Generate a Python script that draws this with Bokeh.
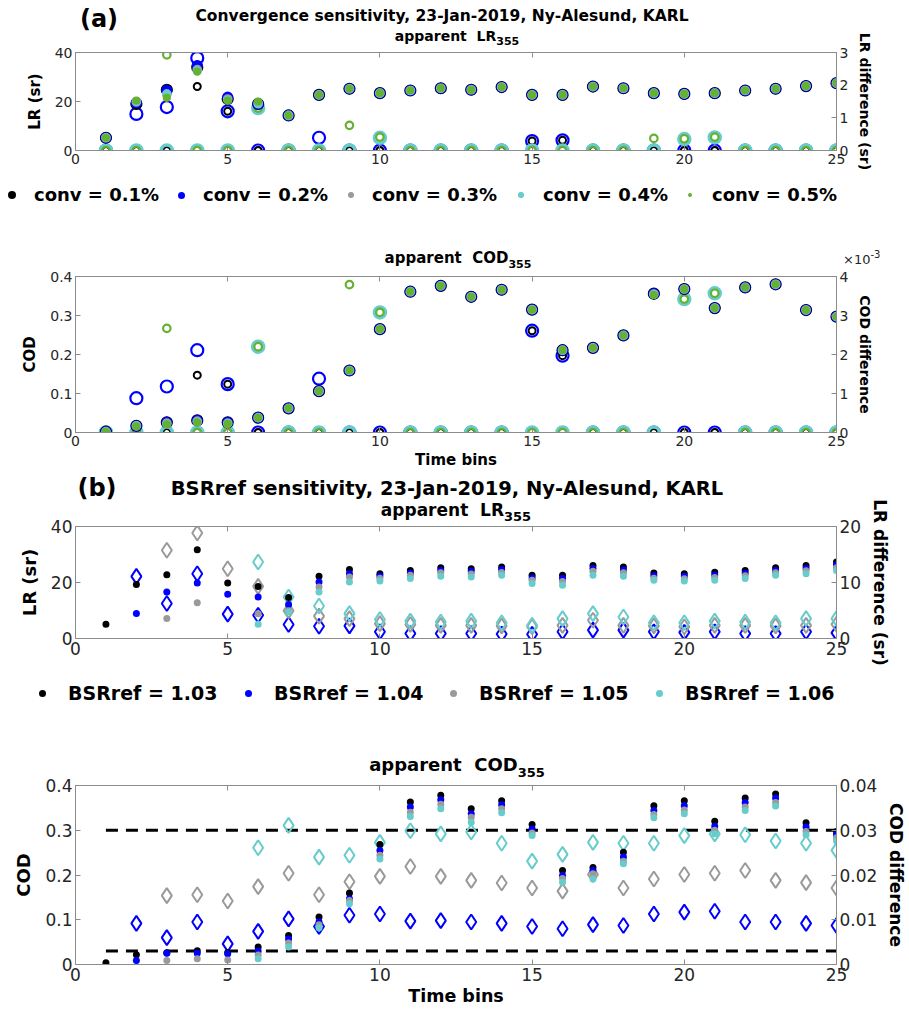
import numpy as np
from bokeh.plotting import figure
from bokeh.layouts import column
from bokeh.models import (Range1d, LinearAxis, FixedTicker, CustomJSTickFormatter, Div)
from bokeh.embed import file_html
from bokeh.resources import INLINE

nan = np.nan

# ---------------------------------------------------------------- data
bins = np.arange(1, 26)

conv_labels = ["conv = 0.1%", "conv = 0.2%", "conv = 0.3%", "conv = 0.4%", "conv = 0.5%"]
bsr_labels = ["BSRref = 1.03", "BSRref = 1.04", "BSRref = 1.05", "BSRref = 1.06"]

# (a) apparent lidar ratio (sr) for each convergence criterion
lr_conv01 = [5.2, 19.0, 24.8, 34.0, 21.0, 19.0, 14.3, 22.7, 25.2, 23.4, 24.5, 25.4, 24.8,
             25.9, 22.7, 22.7, 26.1, 25.4, 23.4, 23.1, 23.4, 24.5, 25.2, 26.3, 27.5]
lr_conv02 = [5.2, 19.5, 24.5, 34.7, 21.8, 19.0, 14.3, 22.7, 25.2, 23.4, 24.5, 25.4, 24.8,
             25.9, 22.7, 22.7, 26.1, 25.4, 23.4, 23.1, 23.4, 24.5, 25.2, 26.3, 27.5]
lr_conv03 = [5.2, 19.8, 23.0, 33.0, 21.0, 19.3, 14.3, 22.7, 25.2, 23.4, 24.5, 25.4, 24.8,
             25.9, 22.7, 22.7, 26.1, 25.4, 23.4, 23.1, 23.4, 24.5, 25.2, 26.3, 27.5]
lr_conv04 = [5.2, 20.0, 23.1, 32.5, 20.6, 19.0, 14.3, 22.7, 25.2, 23.4, 24.5, 25.4, 24.8,
             25.9, 22.7, 22.7, 26.1, 25.4, 23.4, 23.1, 23.4, 24.5, 25.2, 26.3, 27.5]
lr_conv05 = [5.2, 20.4, 21.5, 32.2, 20.4, 20.0, 14.3, 22.7, 25.2, 23.4, 24.5, 25.4, 24.8,
             25.9, 22.7, 22.7, 26.1, 25.4, 23.4, 23.1, 23.4, 24.5, 25.2, 26.3, 27.5]

# (a) lidar ratio difference (sr)
lrd_conv01 = [0, 0, 0, 1.96, 1.20, 0, 0, 0, 0, 0, 0, 0, 0, 0, 0.29, 0.31, 0, 0, 0, 0, 0, 0, 0, 0, 0]
lrd_conv02 = [0, 1.12, 1.33, 2.83, 1.20, 0, 0, 0.39, 0, 0, 0, 0, 0, 0, 0.29, 0.31, 0, 0, 0, 0, 0, 0, 0, 0, 0]
lrd_conv03 = [0, 0, 0, 0, 0, 0, 0, 0, 0, 0, 0, 0, 0, 0, 0, 0, 0, 0, 0, 0, 0, 0, 0, 0, 0]
lrd_conv04 = [0, 0, 0, 0, 0, 1.30, 0, 0, 0, 0.39, 0, 0, 0, 0, 0, 0, 0, 0, 0, 0.35, 0.40, 0, 0, 0, 0]
lrd_conv05 = [0, 0, 2.93, 0, 0, 1.30, 0, 0, 0.77, 0.41, 0, 0, 0, 0, 0, 0, 0, 0, 0.37, 0.36, 0.41, 0, 0, 0, 0]

# (a) apparent cloud optical depth
cod_conv01 = [0.002, 0.017, 0.026, 0.031, 0.026, 0.038, 0.062, 0.106, 0.159, 0.265, 0.361, 0.376, 0.348,
              0.366, 0.315, 0.211, 0.217, 0.249, 0.356, 0.368, 0.319, 0.372, 0.380, 0.314, 0.297]
cod_conv02 = [0.002, 0.017, 0.026, 0.031, 0.026, 0.038, 0.062, 0.106, 0.159, 0.265, 0.361, 0.376, 0.348,
              0.366, 0.315, 0.211, 0.217, 0.249, 0.356, 0.368, 0.319, 0.372, 0.380, 0.314, 0.297]
cod_conv03 = [0.002, 0.017, 0.024, 0.029, 0.024, 0.038, 0.062, 0.106, 0.159, 0.265, 0.361, 0.376, 0.348,
              0.366, 0.315, 0.211, 0.217, 0.249, 0.355, 0.368, 0.319, 0.372, 0.380, 0.314, 0.297]
cod_conv04 = [0.002, 0.017, 0.022, 0.027, 0.023, 0.038, 0.062, 0.106, 0.159, 0.265, 0.361, 0.376, 0.348,
              0.366, 0.315, 0.211, 0.217, 0.249, 0.354, 0.368, 0.319, 0.372, 0.380, 0.314, 0.297]
cod_conv05 = [0.002, 0.016, 0.021, 0.026, 0.022, 0.038, 0.062, 0.106, 0.159, 0.265, 0.361, 0.376, 0.348,
              0.366, 0.315, 0.211, 0.217, 0.249, 0.353, 0.368, 0.319, 0.372, 0.380, 0.314, 0.297]

# (a) COD difference (x 1e-3)
codd_conv01 = [0, 0, 0, 1.47, 1.24, 0, 0, 0, 0, 0, 0, 0, 0, 0, 2.61, 1.97, 0, 0, 0, 0, 0, 0, 0, 0, 0]
codd_conv02 = [0, 0.88, 1.18, 2.11, 1.24, 0, 0, 1.38, 0, 0, 0, 0, 0, 0, 2.61, 1.97, 0, 0, 0, 0, 0, 0, 0, 0, 0]
codd_conv03 = [0, 0, 0, 0, 0, 0, 0, 0, 0, 0, 0, 0, 0, 0, 0, 0, 0, 0, 0, 0, 0, 0, 0, 0, 0]
codd_conv04 = [0, 0, 0, 0, 0, 2.20, 0, 0, 0, 3.08, 0, 0, 0, 0, 0, 0, 0, 0, 0, 3.42, 3.57, 0, 0, 0, 0]
codd_conv05 = [0, 0, 2.67, 0, 0, 2.20, 0, 0, 3.79, 3.08, 0, 0, 0, 0, 0, 0, 0, 0, 3.53, 3.42, 3.57, 0, 0, 0, 0]

# (b) apparent lidar ratio (sr) for each BSRref
lr_bsr103 = [5.1, 19.3, 22.8, 31.7, 19.8, 18.6, 14.6, 22.2, 24.6, 23.1, 24.3, 25.3, 24.9,
             25.5, 22.6, 22.6, 26.1, 25.5, 23.4, 23.1, 23.7, 24.3, 25.3, 26.1, 27.3]
lr_bsr104 = [nan, 8.9, 16.6, 19.8, 15.8, 14.8, 12.1, 20.2, 23.1, 22.3, 23.4, 24.3, 24.0,
             24.6, 21.6, 21.5, 25.0, 24.5, 22.4, 22.2, 22.7, 23.3, 24.3, 25.1, 26.3]
lr_bsr105 = [nan, nan, 7.1, 12.8, nan, 8.8, 9.9, 18.4, 22.0, 21.5, 22.6, 23.5, 23.0,
             23.6, 20.8, 20.4, 24.0, 23.5, 21.5, 21.3, 21.8, 22.4, 23.5, 24.2, 25.3]
lr_bsr106 = [nan, nan, nan, nan, nan, 5.1, 9.5, 16.6, 20.2, 20.5, 21.4, 22.2, 22.0,
             22.6, 19.6, 19.0, 22.6, 22.2, 20.8, 20.5, 20.8, 21.4, 22.6, 23.1, 24.3]

# (b) lidar ratio difference (sr)
lrd_bsr104 = [nan, 11.1, 6.25, 11.55, 4.35, 4.15, 2.5, 2.2, 2.25, 1.2, 0.9, 0.9, 0.9,
              0.8, 0.75, 1.2, 1.5, 1.5, 1.2, 1.1, 1.2, 0.9, 0.9, 1.2, 1.0]
lrd_bsr105 = [nan, nan, 15.75, 18.85, 12.45, 9.3, 4.95, 4.0, 3.55, 2.65, 2.5, 2.35, 2.35,
              2.25, 2.1, 2.35, 3.25, 2.35, 2.25, 2.1, 2.35, 2.35, 2.25, 2.35, 2.55]
lrd_bsr106 = [nan, nan, nan, nan, nan, 13.65, 7.4, 5.8, 4.45, 3.4, 3.1, 2.95, 3.1,
              2.8, 2.35, 3.55, 4.45, 3.85, 2.8, 2.8, 3.1, 2.95, 2.8, 3.55, 3.55]

# (b) apparent cloud optical depth
cod_bsr103 = [0.004, 0.022, 0.026, 0.031, 0.027, 0.039, 0.065, 0.106, 0.160, 0.268, 0.363, 0.378, 0.348,
              0.366, 0.313, 0.210, 0.217, 0.251, 0.355, 0.366, 0.320, 0.372, 0.381, 0.317, 0.297]
cod_bsr104 = [nan, 0.009, 0.025, 0.025, 0.024, 0.030, 0.057, 0.095, 0.147, 0.255, 0.352, 0.368, 0.337,
              0.357, 0.303, 0.199, 0.210, 0.240, 0.344, 0.355, 0.309, 0.362, 0.372, 0.307, 0.290]
cod_bsr105 = [nan, nan, 0.009, 0.013, 0.010, 0.021, 0.048, 0.089, 0.143, 0.244, 0.340, 0.358, 0.329,
              0.348, 0.294, 0.192, 0.203, 0.231, 0.335, 0.345, 0.300, 0.352, 0.362, 0.297, 0.283]
cod_bsr106 = [nan, nan, nan, nan, nan, 0.013, 0.039, 0.082, 0.136, 0.236, 0.331, 0.348, 0.318,
              0.339, 0.288, 0.184, 0.191, 0.225, 0.328, 0.337, 0.292, 0.344, 0.354, 0.290, 0.276]

# (b) COD difference
codd_bsr104 = [nan, 0.0092, 0.0060, 0.0095, 0.0046, 0.0074, 0.0102, 0.0085, 0.0110, 0.0113, 0.0097, 0.0098, 0.0095,
               0.0092, 0.0085, 0.0080, 0.0089, 0.0087, 0.0113, 0.0117, 0.0119, 0.0095, 0.0095, 0.0092, 0.0087]
codd_bsr105 = [nan, nan, 0.0154, 0.0156, 0.0142, 0.0174, 0.0204, 0.0156, 0.0185, 0.0197, 0.0219, 0.0197, 0.0188,
               0.0182, 0.0171, 0.0164, 0.0201, 0.0171, 0.0191, 0.0201, 0.0204, 0.0210, 0.0188, 0.0183, 0.0171]
codd_bsr106 = [nan, nan, nan, nan, nan, 0.0261, 0.0311, 0.0240, 0.0244, 0.0273, 0.0299, 0.0292, 0.0296,
               0.0271, 0.0231, 0.0246, 0.0273, 0.0271, 0.0271, 0.0288, 0.0292, 0.0290, 0.0276, 0.0271, 0.0255]

# COD-difference thresholds (dashed lines)
codd_thresholds = [0.003, 0.03]

# ---------------------------------------------------------------- style
BLACK, BLUE, GRAY, CYAN, GREEN = "#000000", "#0000FF", "#9A9A9A", "#66CCCC", "#66B032"
conv_colors = [BLACK, BLUE, GRAY, CYAN, GREEN]
bsr_colors = [BLACK, BLUE, GRAY, CYAN]
AX = "#8C8C8C"
TXT = "#262626"
FONT = "DejaVu Sans"

W = 909
LEFT, RIGHT = 75, 70


def frac_formatter():
    return CustomJSTickFormatter(code="return String(Math.round(tick*1000)/1000);")


def panel(height, top, bottom, ymax, y2max, yticks, y2ticks, fs, ylabel, y2label, lab_fs,
          y2lab_fs, xlabel=None, xlab_fs=None):
    p = figure(width=W, height=height, x_range=Range1d(0, 25), y_range=Range1d(0, ymax),
               output_backend="svg", toolbar_location=None,
               min_border_left=LEFT, min_border_right=RIGHT,
               min_border_top=top, min_border_bottom=bottom)
    p.extra_y_ranges = {"right": Range1d(0, y2max)}
    p.add_layout(LinearAxis(y_range_name="right"), "right")
    p.add_layout(LinearAxis(), "above")
    p.grid.visible = False
    p.outline_line_color = AX
    p.background_fill_color = "white"
    p.border_fill_alpha = 0      # lets the title / legend text underneath show through
    for ax in p.axis:
        ax.axis_line_color = AX
        ax.major_tick_line_color = AX
        ax.major_tick_in = 5
        ax.major_tick_out = 0
        ax.minor_tick_line_color = None
        ax.major_label_text_font = FONT
        ax.major_label_text_font_size = f"{fs}px"
        ax.major_label_text_color = TXT
        ax.major_label_standoff = 3
        ax.axis_label_text_font = FONT
        ax.axis_label_text_font_style = "bold"
        ax.axis_label_text_font_size = f"{lab_fs}px"
        ax.axis_label_text_color = "black"
    p.xaxis.ticker = FixedTicker(ticks=[0, 5, 10, 15, 20, 25])
    top_ax = p.above[0]
    top_ax.major_label_text_color = None
    top_ax.major_label_standoff = 0
    p.yaxis[0].ticker = FixedTicker(ticks=yticks)
    p.yaxis[0].formatter = frac_formatter()
    p.yaxis[0].axis_label = ylabel
    p.yaxis[1].ticker = FixedTicker(ticks=y2ticks)
    p.yaxis[1].formatter = frac_formatter()
    p.yaxis[1].axis_label = y2label
    p.yaxis[1].axis_label_text_font_size = f"{y2lab_fs}px"
    p.yaxis[0].axis_label_standoff = 8
    p.yaxis[1].axis_label_standoff = 6
    if xlabel:
        p.below[0].axis_label = xlabel
        p.below[0].axis_label_text_font_size = f"{xlab_fs}px"
        p.below[0].axis_label_standoff = 2
    return p


# ---------------------------------------------------------------- text layers (titles, legends)
def span(x, y, html, size, bold=True, align="center", color="black"):
    if align == "center":
        pos = f"left:{x}px;transform:translate(-50%,-50%);"
    else:
        pos = f"left:{x}px;transform:translateY(-50%);"
    weight = "bold" if bold else "normal"
    return (f'<span style="position:absolute;top:{y}px;{pos}font-family:\'{FONT}\';'
            f'font-size:{size}px;font-weight:{weight};color:{color};white-space:nowrap;'
            f'line-height:1;">{html}</span>')


def dot(x, y, d, color):
    return (f'<span style="position:absolute;left:{x - d / 2}px;top:{y - d / 2}px;width:{d}px;'
            f'height:{d}px;border-radius:50%;background:{color};"></span>')


def subtitle(x, y, name, size, sub_size, drop):
    html = (f'apparent&nbsp;&nbsp;{name}<span style="font-size:{sub_size}px;position:relative;'
            f'top:{drop}px;">355</span>')
    return span(x, y, html, size)


def legend(y, labels, colors, marker_x, text_x, sizes, size):
    out = ""
    for lab, col, mx, tx, d in zip(labels, colors, marker_x, text_x, sizes):
        out += dot(mx, y, d, col) + span(tx, y, lab, size, align="left")
    return out


def underlay(height, inner):
    """Text layer sharing the vertical space of the figure that follows it."""
    html = f'<div style="position:relative;width:{W}px;height:{height}px;">{inner}</div>'
    return Div(text=html, width=W, height=height, margin=(0, 0, -height, 0))


# ---------------------------------------------------------------- (a) LR
HA1 = 222
tA1 = underlay(HA1, span(99, 19, "(a)", 24)
               + span(442, 17, "Convergence sensitivity, 23-Jan-2019, Ny-Alesund, KARL", 15.5)
               + subtitle(457, 36, "LR", 14, 11, 4)
               + legend(195, conv_labels, conv_colors, [12, 181, 351, 521, 690],
                        [34, 203, 372, 543, 712], [8, 7, 6, 5.5, 4], 18))
pa1 = panel(HA1, 52, 72, 40, 3, [0, 20, 40], [0, 1, 2, 3], 14, "LR (sr)", "LR difference (sr)", 15, 14)
fill_a = [(lr_conv01, 11), (lr_conv02, 10), (lr_conv03, 8.5), (lr_conv04, 8), (lr_conv05, 7)]
open_a = [(lrd_conv03, GRAY, 7, 2), (lrd_conv01, BLACK, 7, 2), (lrd_conv02, BLUE, 12, 2.2),
          (lrd_conv04, CYAN, 11, 3.5), (lrd_conv05, GREEN, 7.5, 2.2)]
for vals, col, sz, lw in open_a:
    pa1.scatter(bins, vals, y_range_name="right", size=sz, fill_color=None, line_color=col, line_width=lw)
for (vals, sz), col in zip(fill_a, conv_colors):
    pa1.scatter(bins, vals, size=sz, fill_color=col, line_color=col, line_width=1.2)

# ---------------------------------------------------------------- (a) COD
HA2 = 253
tA2 = underlay(HA2, subtitle(458, 36, "COD", 15, 11, 4.5)
               + span(843, 36, "\u00d710<sup style='font-size:10px'>-3</sup>", 13, bold=False,
                      align="left", color=TXT))
pa2 = panel(HA2, 54, 43, 0.4, 4, [0, 0.1, 0.2, 0.3, 0.4], [0, 1, 2, 3, 4], 14, "COD",
            "COD difference", 15, 14, xlabel="Time bins", xlab_fs=15)
fill_a2 = [(cod_conv01, 11), (cod_conv02, 10), (cod_conv03, 8.5), (cod_conv04, 8), (cod_conv05, 7)]
open_a2 = [(codd_conv03, GRAY, 7, 2), (codd_conv01, BLACK, 7, 2), (codd_conv02, BLUE, 12, 2.2),
           (codd_conv04, CYAN, 11, 3.5), (codd_conv05, GREEN, 7.5, 2.2)]
for vals, col, sz, lw in open_a2:
    pa2.scatter(bins, vals, y_range_name="right", size=sz, fill_color=None, line_color=col, line_width=lw)
for (vals, sz), col in zip(fill_a2, conv_colors):
    pa2.scatter(bins, vals, size=sz, fill_color=col, line_color=col, line_width=1.2)

# ---------------------------------------------------------------- (b) LR
HB1 = 247
tB1 = underlay(HB1, span(97, 13, "(b)", 24)
               + span(447, 14, "BSRref sensitivity, 23-Jan-2019, Ny-Alesund, KARL", 19.5)
               + subtitle(456, 35, "LR", 17, 13, 5)
               + legend(218, bsr_labels, bsr_colors, [42, 248, 453, 659], [68, 274, 479, 685],
                        [7, 7, 7, 7], 19))
pb1 = panel(HB1, 51, 84, 40, 20, [0, 20, 40], [0, 10, 20], 17, "LR (sr)", "LR difference (sr)", 18, 17)
for vals, col in zip([lrd_bsr104, lrd_bsr105, lrd_bsr106], bsr_colors[1:]):
    pb1.scatter(bins, vals, y_range_name="right", marker="diamond", size=15, fill_color=None,
                line_color=col, line_width=2)
for vals, col in zip([lr_bsr103, lr_bsr104, lr_bsr105, lr_bsr106], bsr_colors):
    pb1.scatter(bins, vals, size=7, fill_color=col, line_color=None)

# ---------------------------------------------------------------- (b) COD
HB2 = 291
tB2 = underlay(HB2, subtitle(457, 43, "COD", 18, 13, 5.5))
pb2 = panel(HB2, 63, 49, 0.4, 0.04, [0, 0.1, 0.2, 0.3, 0.4], [0, 0.01, 0.02, 0.03, 0.04], 17, "COD",
            "COD difference", 18, 17, xlabel="Time bins", xlab_fs=17.5)
for th in codd_thresholds:
    pb2.line([bins[0], bins[-1]], [th, th], y_range_name="right", line_color="black",
             line_width=3, line_dash="12 8")
for vals, col in zip([codd_bsr104, codd_bsr105, codd_bsr106], bsr_colors[1:]):
    pb2.scatter(bins, vals, y_range_name="right", marker="diamond", size=15, fill_color=None,
                line_color=col, line_width=2)
for vals, col in zip([cod_bsr103, cod_bsr104, cod_bsr105, cod_bsr106], bsr_colors):
    pb2.scatter(bins, vals, size=7, fill_color=col, line_color=None)

layout = column(tA1, pa1, tA2, pa2, tB1, pb1, tB2, pb2, spacing=0)
open("out.html", "w").write(file_html(layout, INLINE))
